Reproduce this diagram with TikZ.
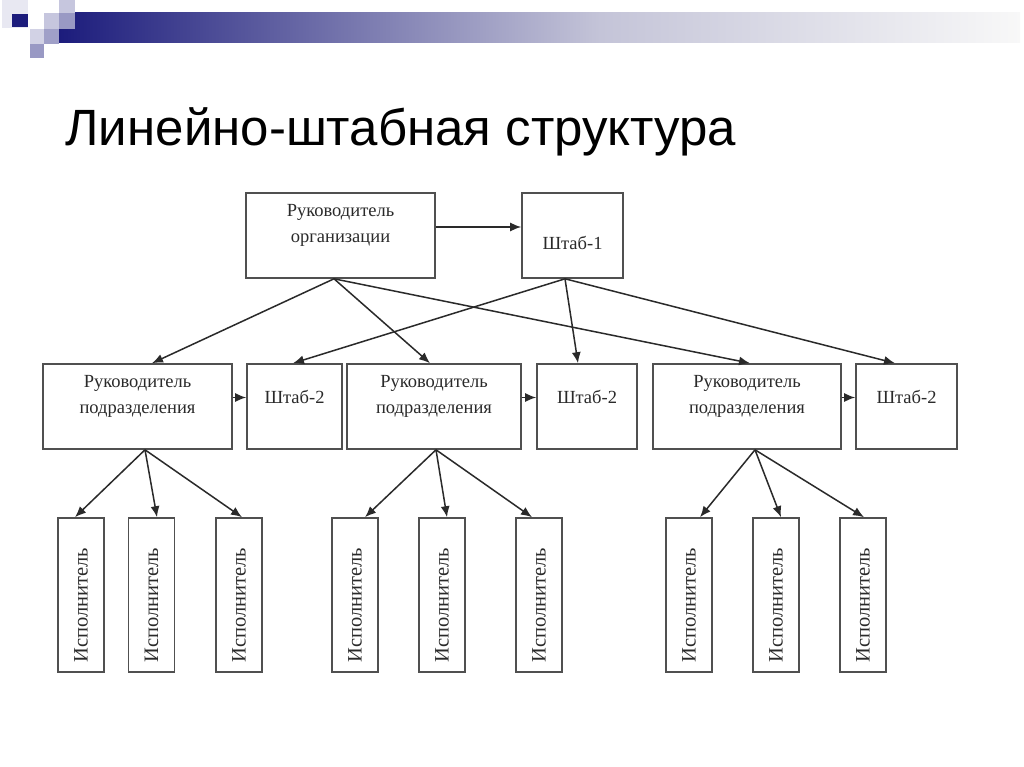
\documentclass[tikz,border=0pt]{standalone}
\usepackage{fontspec}
\usepackage{graphicx}
\setmainfont{Liberation Serif}
\newfontfamily\titlefont{Liberation Sans}
\usetikzlibrary{arrows.meta}
\definecolor{navy}{HTML}{1C1C7C}
\definecolor{barmid}{HTML}{C4C4D8}
\definecolor{barend}{HTML}{F8F8F8}
\definecolor{boxgray}{HTML}{505050}
\definecolor{textgray}{HTML}{2A2A2A}
\definecolor{linegray}{HTML}{2A2A2A}
\tikzset{
  box/.style={draw=boxgray, line width=1.6pt, text=textgray, align=center,
    font=\fontsize{18.5}{26}\selectfont, minimum height=85, inner sep=2pt},
  isp/.style={draw=boxgray, line width=1.6pt, text=textgray, inner sep=0pt,
    font=\fontsize{20.5}{24}\selectfont, minimum width=46, minimum height=154},
  arr/.style={->, draw=linegray, line width=1.5pt}
}
\begin{document}
\begin{tikzpicture}[x=1pt,y=-1pt,>={Latex[length=11pt,width=9pt]}]
    \fill[white] (0,0) rectangle (1024,767);
    \useasboundingbox (0,0) rectangle (1024,767);

    % top bar and squares
    \shade[left color=navy, right color=barmid] (59,13) rectangle (600,43);
    \shade[left color=barmid, right color=barend] (600,13) rectangle (1020,43);
    \fill[navy!10] (2,0) rectangle (28,28);
    \fill[navy] (12,14) rectangle (28,27);
    \fill[navy!25] (44,13) rectangle (59,29);
    \fill[navy!25] (59,0) rectangle (75,13);
    \fill[navy!45] (59,13) rectangle (75,29);
    \fill[navy!20] (30,29) rectangle (44,44);
    \fill[navy!42] (44,29) rectangle (59,44);
    \fill[navy!45] (30,44) rectangle (44,58);

    \node[anchor=base west, font=\titlefont\fontsize{51}{60}\selectfont] (title) at (62,146) {Линейно-штабная структура};

    \node[box, minimum width=189, text depth=24pt] (org) at (340.5,235.5) {Руководитель\\организации};
    \node[box, minimum width=101, text height=28pt] (sh1) at (572.5,235.5) {Штаб-1};

    \node[box, minimum width=189, text depth=24pt] (rp1) at (137.5,406.5) {Руководитель\\подразделения};
    \node[box, minimum width=95, text depth=20pt] (sh2a) at (294.5,406.5) {Штаб-2};
    \node[box, minimum width=174, text depth=24pt] (rp2) at (434,406.5) {Руководитель\\подразделения};
    \node[box, minimum width=100, text depth=20pt] (sh2b) at (587,406.5) {Штаб-2};
    \node[box, minimum width=188, text depth=24pt] (rp3) at (747,406.5) {Руководитель\\подразделения};
    \node[box, minimum width=101, text depth=20pt] (sh2c) at (906.5,406.5) {Штаб-2};

    \foreach \x/\n in {81/i1,151.5/i2,239/i3,355/i4,442/i5,539/i6,689/i7,776/i8,863/i9}
      \node[isp] (\n) at (\x,595) {\raisebox{-10pt}[\height][\depth]{\rotatebox{90}{Исполнитель}}};

    \draw[arr] ([yshift=8.5pt]org.east) -- ([yshift=8.5pt]sh1.west);
    \foreach \a/\da/\b/\db in {org/-6.5/rp1/14.5,org/-6.5/rp2/-4,org/-6.5/rp3/3,
        sh1/-7.5/sh2a/-1.5,sh1/-7.5/sh2b/-9,sh1/-7.5/sh2c/-11.5}
      \draw[arr] ([xshift=\da pt]\a.south) -- ([xshift=\db pt]\b.north);
    \foreach \a/\b in {rp1/sh2a,rp2/sh2b,rp3/sh2c}
      \draw[arr] ([yshift=9pt]\a.east) -- ([yshift=9pt]\b.west);
    \foreach \a/\da/\b/\db in {rp1/7.5/i1/-6,rp1/7.5/i2/5.5,rp1/7.5/i3/3,
        rp2/2/i4/10,rp2/2/i5/5,rp2/2/i6/-7,rp3/8/i7/11,rp3/8/i8/5,rp3/8/i9/1}
      \draw[arr] ([xshift=\da pt]\a.south) -- ([xshift=\db pt]\b.north);
  \end{tikzpicture}
\end{document}
